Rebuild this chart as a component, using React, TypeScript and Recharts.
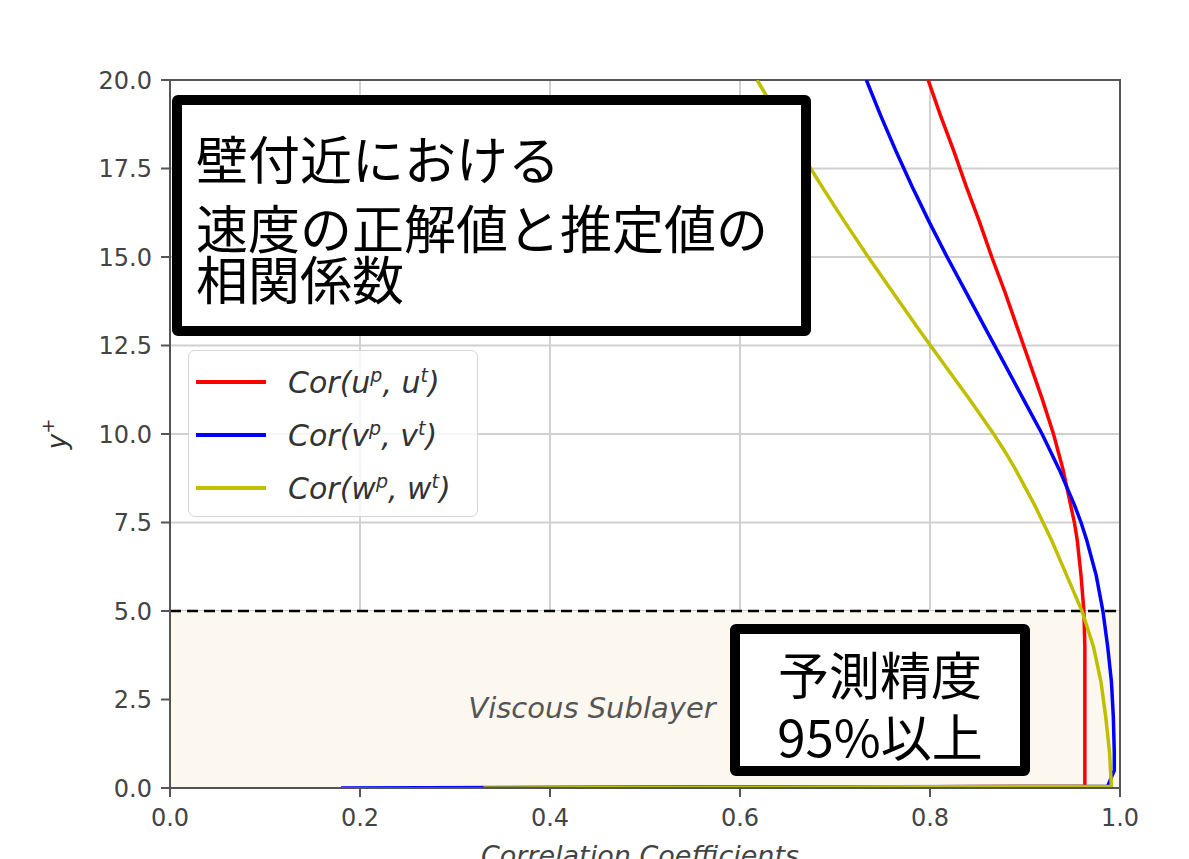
import {
  LineChart,
  Line,
  XAxis,
  YAxis,
  CartesianGrid,
  ReferenceArea,
  ReferenceLine,
  Legend,
} from 'recharts';

// y+ positions shared by the three profiles
const yPlus = [0, 0.05, 0.5, 1, 2, 3, 4, 5, 6, 7, 7.5, 8, 8.5, 9, 9.5, 10, 11, 12, 13, 14, 15, 16, 17, 18, 19, 20];

// correlation of predicted vs true velocity
const corU = [0.3, 0.963, 0.963, 0.963, 0.963, 0.963, 0.963, 0.962, 0.959, 0.955, 0.952, 0.948, 0.944, 0.94, 0.935, 0.93, 0.918, 0.905, 0.892, 0.879, 0.865, 0.852, 0.838, 0.825, 0.811, 0.798];
const corV = [0.18, 0.987, 0.994, 0.994, 0.993, 0.991, 0.987, 0.982, 0.975, 0.965, 0.959, 0.952, 0.944, 0.936, 0.927, 0.918, 0.898, 0.878, 0.858, 0.838, 0.818, 0.799, 0.781, 0.764, 0.748, 0.733];
const corW = [0.33, 0.991, 0.99, 0.989, 0.985, 0.98, 0.972, 0.96, 0.944, 0.928, 0.919, 0.91, 0.9, 0.89, 0.879, 0.867, 0.841, 0.814, 0.787, 0.761, 0.735, 0.71, 0.686, 0.663, 0.64, 0.618];

const xTicks = [0, 0.2, 0.4, 0.6, 0.8, 1.0];
const yTicks = [0, 2.5, 5, 7.5, 10, 12.5, 15, 17.5, 20];

const seriesVars = ['u', 'v', 'w'];
const seriesColors = ['#ff0000', '#0000ff', '#bfbf00'];

const titleLines = ['壁付近における', '速度の正解値と推定値の', '相関係数'];
const noteLines = ['予測精度', '95%以上'];

const toPoints = (vals: number[]) => yPlus.map((y, i) => ({ x: vals[i], y }));
const series = [corU, corV, corW].map(toPoints);

const tickStyle = { fontSize: 24, fill: '#444', fontFamily: 'DejaVu Sans' };
const cjk = '"Noto Sans CJK JP", sans-serif';

function LegendBox({ payload }: any) {
  return (
    <div
      style={{
        width: 290,
        height: 167,
        boxSizing: 'border-box',
        border: '1.5px solid #d6d6d6',
        borderRadius: 7,
        background: 'rgba(255,255,255,0.8)',
        paddingTop: 4,
      }}
    >
      {(payload || []).map((entry: any, i: number) => {
        const v = seriesVars[i];
        return (
          <div key={v} style={{ display: 'flex', alignItems: 'center', height: 53 }}>
            <div style={{ width: 70, height: 4, marginLeft: 7, background: entry.color }} />
            <span
              style={{
                marginLeft: 22,
                fontFamily: 'DejaVu Sans',
                fontStyle: 'italic',
                fontSize: 30,
                color: '#333',
                whiteSpace: 'nowrap',
              }}
            >
              Cor({v}
              <sup style={{ fontSize: 19 }}>p</sup>, {v}
              <sup style={{ fontSize: 19 }}>t</sup>)
            </span>
          </div>
        );
      })}
    </div>
  );
}

function YLabel({ viewBox }: any) {
  const cx = 66;
  const cy = viewBox.y + viewBox.height / 2;
  return (
    <text
      transform={`translate(${cx},${cy}) rotate(-90)`}
      textAnchor="middle"
      fontFamily="DejaVu Sans"
      fontStyle="italic"
      fontSize={26}
      fill="#333"
    >
      y<tspan dy={-12} fontSize={18} fontStyle="normal">+</tspan>
    </text>
  );
}

function XLabel({ viewBox }: any) {
  return (
    <text
      x={viewBox.x + viewBox.width / 2 - 5}
      y={viewBox.y + 77}
      textAnchor="middle"
      fontFamily="DejaVu Sans"
      fontStyle="italic"
      fontSize={27}
      fill="#444"
    >
      Correlation Coefficients
    </text>
  );
}

export default function App() {
  return (
    <div style={{ position: 'absolute', left: 0, top: 0, width: 1189, height: 859, background: '#fff', overflow: 'hidden' }}>
      <LineChart width={1189} height={859} margin={{ top: 80, right: 69, bottom: 11, left: 100 }}>
        <ReferenceArea x1={0} x2={1} y1={0} y2={5} fill="#fdf8ef" fillOpacity={1} stroke="none" ifOverflow="hidden" />
        <CartesianGrid stroke="#d0d0d0" strokeWidth={2} />
        <XAxis
          type="number"
          dataKey="x"
          domain={[0, 1]}
          ticks={xTicks}
          tickFormatter={(v: number) => v.toFixed(1)}
          tick={tickStyle}
          tickSize={9}
          tickMargin={12}
          axisLine={{ stroke: '#555', strokeWidth: 2 }}
          tickLine={{ stroke: '#555', strokeWidth: 2 }}
          height={60}
          allowDataOverflow
          label={<XLabel />}
        />
        <YAxis
          type="number"
          domain={[0, 20]}
          ticks={yTicks}
          tickFormatter={(v: number) => v.toFixed(1)}
          tick={tickStyle}
          tickSize={9}
          tickMargin={9}
          axisLine={{ stroke: '#555', strokeWidth: 2 }}
          tickLine={{ stroke: '#555', strokeWidth: 2 }}
          width={70}
          allowDataOverflow
          label={<YLabel />}
        />
        <ReferenceArea x1={0} x2={1} y1={0} y2={5} fill="none" stroke="none"
          label={{ value: 'Viscous Sublayer', position: 'center', dx: -53, dy: 8, fill: '#555', fontSize: 29, fontStyle: 'italic', fontFamily: 'DejaVu Sans' }} />
        <ReferenceLine y={5} stroke="#000" strokeWidth={2.5} strokeDasharray="11 6" />
        {series.map((pts, i) => (
          <Line
            key={seriesVars[i]}
            data={pts}
            dataKey="y"
            name={`Cor(${seriesVars[i]}p, ${seriesVars[i]}t)`}
            stroke={seriesColors[i]}
            strokeWidth={3.5}
            dot={false}
            activeDot={false}
            type="linear"
            isAnimationActive={false}
          />
        ))}
        <ReferenceArea x1={0} x2={1} y1={0} y2={20} fill="none" stroke="#555" strokeWidth={2} />
        <Legend
          content={<LegendBox />}
          layout="vertical"
          align="center"
          verticalAlign="middle"
          wrapperStyle={{ position: 'absolute', left: 188, top: 350, width: 290, height: 167 }}
        />
      </LineChart>

      <div
        style={{
          position: 'absolute',
          left: 172,
          top: 95,
          width: 639,
          height: 241,
          boxSizing: 'border-box',
          border: '10px solid #000',
          borderRadius: 6,
          background: '#fff',
        }}
      />
      {titleLines.map((t, i) => (
        <div
          key={t}
          style={{
            position: 'absolute',
            left: 196,
            top: [134, 203, 254][i],
            fontFamily: cjk,
            fontSize: 52,
            lineHeight: '48px',
            color: '#000',
            whiteSpace: 'nowrap',
          }}
        >
          {t}
        </div>
      ))}

      <div
        style={{
          position: 'absolute',
          left: 730,
          top: 624,
          width: 300,
          height: 152,
          boxSizing: 'border-box',
          border: '10px solid #000',
          borderRadius: 6,
          background: '#fff',
        }}
      />
      {noteLines.map((t, i) => (
        <div
          key={t}
          style={{
            position: 'absolute',
            left: 730,
            width: 300,
            textAlign: 'center',
            top: [650, 712][i],
            fontFamily: cjk,
            fontSize: 51,
            lineHeight: '47px',
            color: '#000',
            whiteSpace: 'nowrap',
          }}
        >
          {t}
        </div>
      ))}
    </div>
  );
}
